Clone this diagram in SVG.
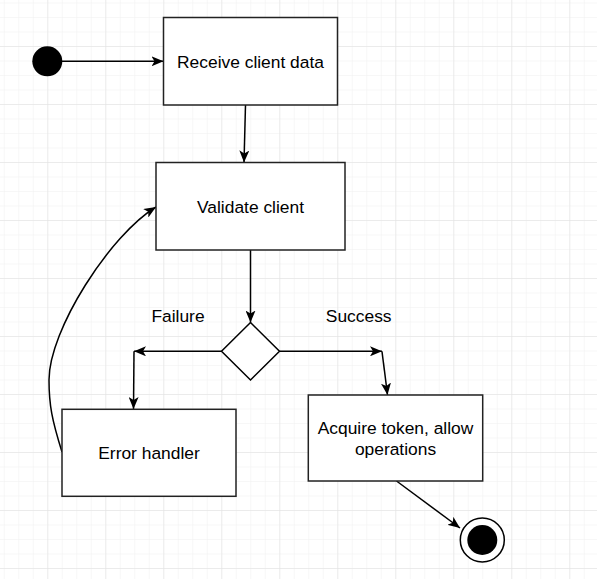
<svg xmlns="http://www.w3.org/2000/svg" width="597" height="579" viewBox="0 0 597 579">
  <defs>
    <pattern id="minor" patternUnits="userSpaceOnUse" x="3.8" y="2.5" width="14.5" height="14.5">
      <path d="M0,0 H14.5 M0,0 V14.5" fill="none" stroke="#f0f0f0" stroke-width="1"/>
    </pattern>
    <pattern id="major" patternUnits="userSpaceOnUse" x="47.3" y="46" width="58" height="58">
      <path d="M0,0 H58 M0,0 V58" fill="none" stroke="#e0e0e0" stroke-width="1"/>
    </pattern>
    <marker id="arr" viewBox="0 0 12 10" refX="12" refY="5" markerWidth="12" markerHeight="10" markerUnits="userSpaceOnUse" orient="auto">
      <path d="M0,0 L12,5 L0,10 L3,5 Z" fill="#000"/>
    </marker>
  </defs>
  <style>
    .box { fill: #fff; stroke: #222; stroke-width: 1.5; }
    .lbl { font-family: "Liberation Sans", Arial, sans-serif; font-size: 17.4px; fill: #000; text-anchor: middle; }
    .edge { fill: none; stroke: #000; stroke-width: 1.5; marker-end: url(#arr); }
  </style>
  <rect width="597" height="579" fill="#fff"/>
  <rect width="597" height="579" fill="url(#minor)"/>
  <rect width="597" height="579" fill="url(#major)"/>

  <g id="connectors">
    <path class="edge" d="M62,61.3 L163.5,61.3"/>
    <path class="edge" d="M245.5,105 L244,162.5"/>
    <path class="edge" d="M250.5,250 L250.5,322.5"/>
    <path class="edge" d="M221.5,351.3 L134,351.3"/>
    <path class="edge" d="M134,351.3 L133.5,409"/>
    <path class="edge" d="M279.5,351.3 L382,351.3"/>
    <path class="edge" d="M382,351.3 L387.5,395"/>
    <path class="edge" d="M396.5,481 L460,528"/>
    <path class="edge" d="M62,452 C52,420 49,405 49,380 C49,330 110,235 156,207"/>
  </g>

  <g id="start">
    <circle cx="47.3" cy="61.3" r="15" fill="#000"/>
  </g>

  <g id="receive">
    <rect class="box" x="163.5" y="17.5" width="174" height="87.5"/>
    <text class="lbl" x="250.5" y="68">Receive client data</text>
  </g>

  <g id="validate">
    <rect class="box" x="156" y="162.5" width="189" height="87.5"/>
    <text class="lbl" x="250.5" y="212.7">Validate client</text>
  </g>

  <g id="decision">
    <polygon points="250.5,322.5 279.5,351.3 250.5,380 221.5,351.3" fill="#fff" stroke="#000" stroke-width="1.5"/>
  </g>

  <g id="label-failure">
    <text class="lbl" x="178" y="321.7">Failure</text>
  </g>
  <g id="label-success">
    <text class="lbl" x="358.7" y="321.7">Success</text>
  </g>

  <g id="error">
    <rect class="box" x="62" y="409.3" width="174" height="87"/>
    <text class="lbl" x="149" y="459.3">Error handler</text>
  </g>

  <g id="acquire">
    <rect class="box" x="308.3" y="395" width="174.4" height="86"/>
    <text class="lbl" x="395.5" y="434">Acquire token, allow</text>
    <text class="lbl" x="395.5" y="454.5">operations</text>
  </g>

  <g id="end">
    <circle cx="482.3" cy="540" r="22" fill="#fff" stroke="#000" stroke-width="1.5"/>
    <circle cx="482.3" cy="540" r="15" fill="#000"/>
  </g>
</svg>
